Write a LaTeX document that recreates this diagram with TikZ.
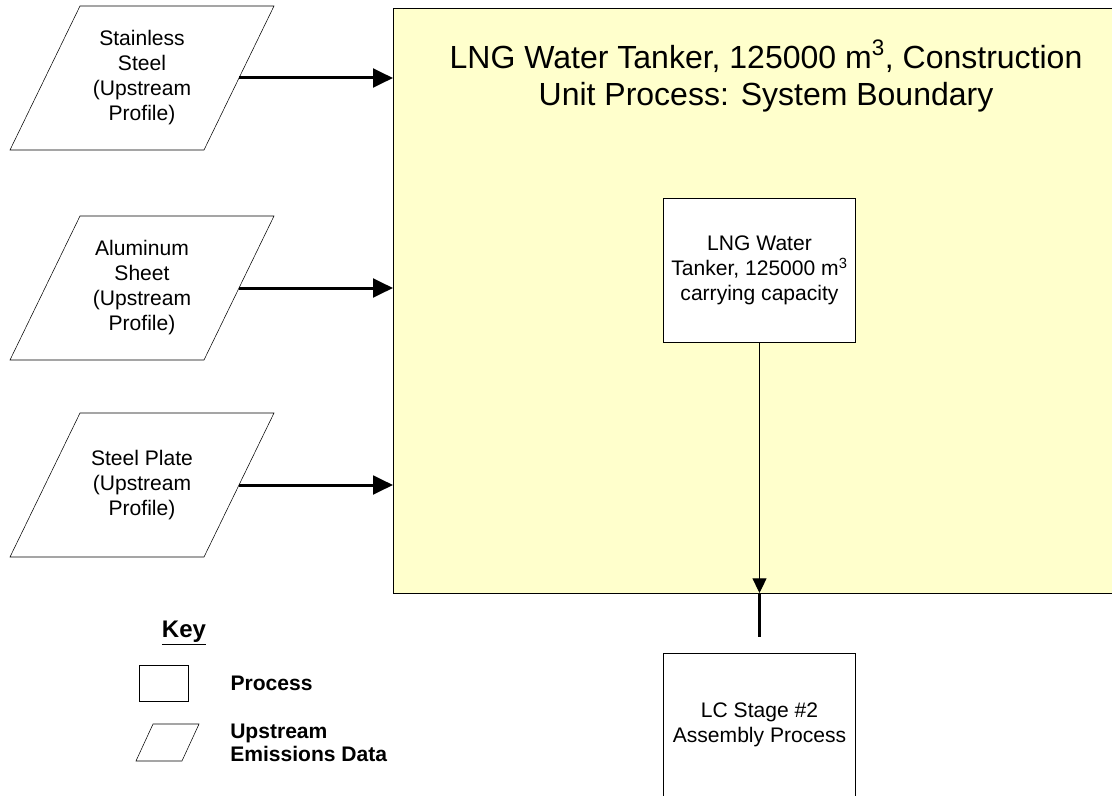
\documentclass[tikz,border=0pt]{standalone}
\usepackage{fontspec}
\setmainfont{Liberation Sans}
\usetikzlibrary{arrows.meta,positioning,shapes.geometric,calc}
\definecolor{bndyellow}{RGB}{255,255,204}

\begin{document}
\begin{tikzpicture}[
    x=0.75pt, y=-0.75pt,
    txt/.style={font=\fontsize{15.8}{18.75}\selectfont, align=center},
    upstream/.style={rectangle, minimum width=145.5pt, minimum height=108pt, inner sep=0pt, outer sep=0pt, txt},
    process/.style={draw, rectangle, fill=white, minimum width=144pt, minimum height=108pt, inner sep=0pt, outer sep=0pt, txt},
    boundary/.style={rectangle, fill=bndyellow, inner sep=0pt, outer sep=0pt},
    keytxt/.style={font=\fontsize{15.8}{17.25}\selectfont\bfseries, align=left, anchor=west, inner sep=0pt},
    feed/.style={-{Triangle[length=15pt, width=14pt]}, line width=2.25pt},
    flow/.style={-{Triangle[length=11pt, width=10.5pt]}, line width=0.75pt},
    stub/.style={line width=2.25pt},
  ]
    \useasboundingbox (0,0) rectangle (1112,795);

    % System boundary
    \node[boundary, anchor=north west, minimum width=555pt, minimum height=438.75pt] (bnd) at (393,8) {};
    \draw (bnd.north east) -- (bnd.north west) -- (bnd.south west) -- (bnd.south east);
    \node[font=\fontsize{24}{27.75}\selectfont, align=center] (title) at (766,76)
      {LNG Water Tanker, 125000 m\textsuperscript{3}, Construction\\Unit Process: System Boundary};

    % Nodes
    \node[upstream] (stainless) at (142,78) {Stainless\\Steel\\(Upstream\\Profile)};
    \node[upstream, below=49.5pt of stainless] (alu) {Aluminum\\Sheet\\(Upstream\\Profile)};
    \node[upstream, below=39.75pt of alu] (plate) {Steel Plate\\(Upstream\\Profile)};
    \node[process] (tank) at (759.5,270) {LNG Water\\Tanker, 125000 m\textsuperscript{3}\\carrying capacity};
    \node[process, below=233.25pt of tank] (stage) {LC Stage \#2\\Assembly Process};

    % Slanted outlines of the upstream profiles
    \foreach \n in {stainless,alu,plate}
      \draw ([xshift=-26.25pt]\n.south west) -- ([xshift=-26.25pt]\n.south east)
        -- ([xshift=26.25pt]\n.north east) -- ([xshift=26.25pt]\n.north west) -- cycle;

    % Inputs
    \draw[feed] (stainless) -- (stainless -| bnd.west);
    \draw[feed] (alu) -- (alu -| bnd.west);
    \draw[feed] (plate) -- (plate -| bnd.west);

    % Output
    \coordinate (exit) at (tank |- bnd.south);
    \coordinate[below=33pt of exit] (stubend);
    \draw[flow] (tank) -- (exit);
    \draw[stub] (exit) -- (stubend);

    % Key
    \node[font=\fontsize{18}{20}\selectfont\bfseries] (key) at (184,633) {\underline{Key}};
    \node[draw, rectangle, minimum width=36.75pt, minimum height=27pt, inner sep=0pt] (keyproc) at (163.5,683) {};
    \node[keytxt, right=31.5pt of keyproc] (keyproctxt) {Process};
    \node[upstream, minimum width=34.5pt, minimum height=27.75pt] (keyup) at (167.5,742.5) {};
    \draw ([xshift=-6.4pt]keyup.south west) -- ([xshift=-6.4pt]keyup.south east)
      -- ([xshift=6.4pt]keyup.north east) -- ([xshift=6.4pt]keyup.north west) -- cycle;
    \node[keytxt] (keyuptxt) at (230,743) {Upstream\\Emissions Data};
  \end{tikzpicture}
\end{document}
